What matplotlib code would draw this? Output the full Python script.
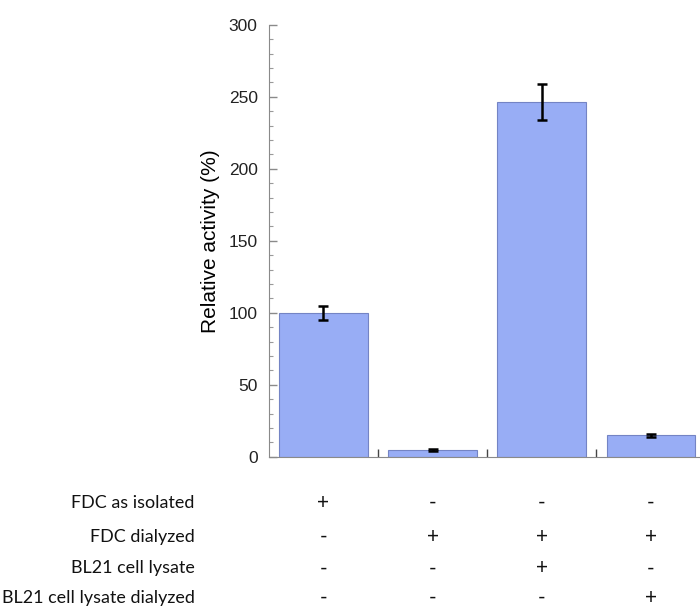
#!/usr/bin/env python
"""
Relative activity of FDC with/without dialysis and BL21 lysate.
"""
import matplotlib
matplotlib.use('Agg')
import matplotlib.pyplot as plt
from matplotlib.ticker import MultipleLocator

# bar heights and error bars (%)
activity = [100, 4.5, 246, 15]
errors = [5, 0.6, 12.5, 1.0]

# condition table under the bars
conditions = ['FDC as isolated', 'FDC dialyzed',
              'BL21 cell lysate', 'BL21 cell lysate dialyzed']
signs = [
    ['+', '-', '-', '-'],
    ['-', '+', '+', '+'],
    ['-', '-', '+', '-'],
    ['-', '-', '-', '+'],
]

def main():
    fig = plt.figure(figsize=(7, 6.09), dpi=100)
    ax = fig.add_axes([0.384, 0.25, 0.616, 0.7094])

    x = list(range(len(activity)))
    ax.bar(x, activity, width=0.81, color='#98adf5', edgecolor='#7484c4',
           linewidth=0.8, zorder=2)
    ax.errorbar(x, activity, yerr=errors, fmt='none', ecolor='black',
                elinewidth=1.8, capsize=3.5, capthick=1.8, zorder=3)

    ax.set_xlim(-0.5, 3.45)
    ax.set_ylim(0, 300)
    ax.yaxis.set_major_locator(MultipleLocator(50))
    ax.yaxis.set_minor_locator(MultipleLocator(10))
    ax.set_xticks([0.5, 1.5, 2.5])
    ax.set_xticklabels([])

    for side in ['top', 'right']:
        ax.spines[side].set_visible(False)
    ax.spines['left'].set_color('#8a8a8a')
    ax.spines['bottom'].set_color('#8a8a8a')
    ax.tick_params(axis='y', which='major', direction='in', length=6,
                   width=1, color='#8a8a8a', pad=8, labelsize=12.5,
                   labelcolor='#222222')
    ax.tick_params(axis='y', which='minor', direction='in', length=3,
                   width=0.8, color='#9a9a9a')
    ax.tick_params(axis='x', which='major', direction='in', length=6,
                   width=1, color='#444444')
    for lab in ax.get_yticklabels():
        lab.set_family('Liberation Sans')

    ax.set_ylabel('Relative activity (%)', fontsize=15,
                  family='Liberation Sans', labelpad=6)

    # condition table
    trans = ax.get_xaxis_transform()
    rows_y = [-0.107, -0.186, -0.258, -0.327]
    for row, name in enumerate(conditions):
        ax.text(-1.18, rows_y[row], name, transform=trans, ha='right',
                va='center', fontsize=12.9, family='Lato', color='#111111',
                clip_on=False)
        for col, s in enumerate(signs[row]):
            ax.text(col, rows_y[row], s, transform=trans, ha='center',
                    va='center', fontsize=15, family='Lato', color='#111111',
                    clip_on=False)

    fig.savefig('out.png', dpi=100)

if __name__ == '__main__':
    main()
